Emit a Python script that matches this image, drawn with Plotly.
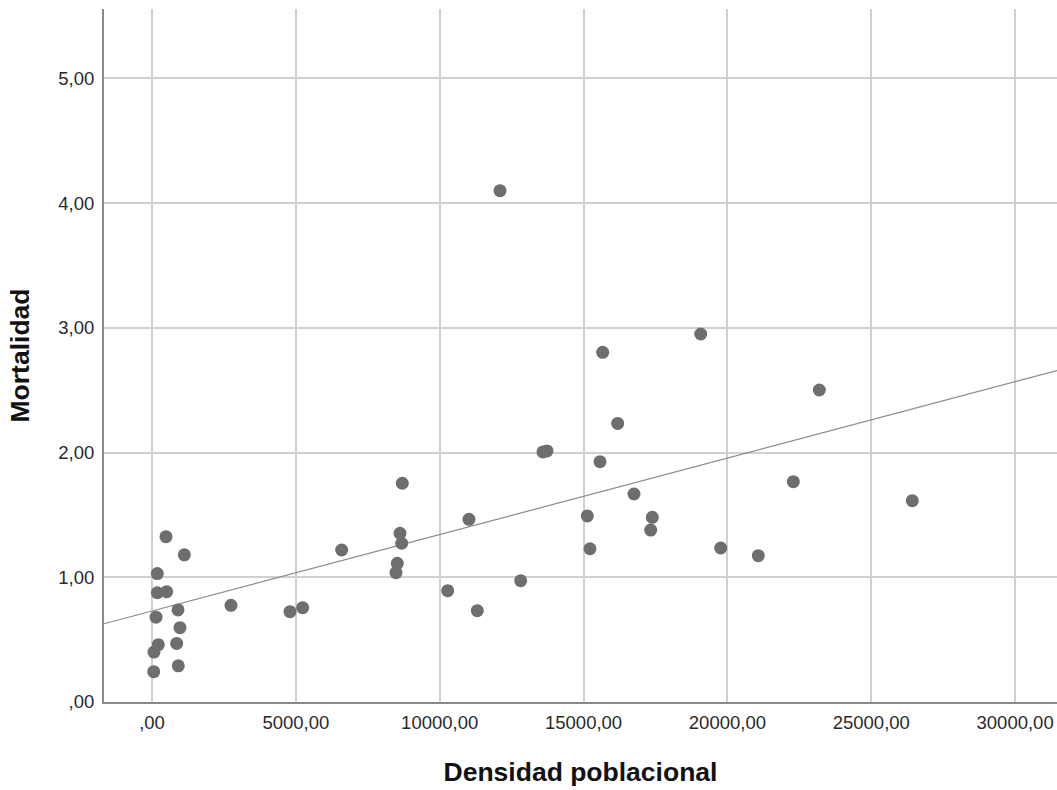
import numpy as np
import plotly.graph_objects as go

densidad = [60, 70, 220, 140, 487, 1124, 185, 185, 510, 904, 973, 858, 915,
            2746, 4797, 5237, 6593, 8700, 8620, 8679, 8526, 8481, 11018, 10278,
            11307, 12815, 12096, 13590, 13730, 19072, 15665, 16186, 15572, 16753,
            15130, 17390, 17334, 15224, 23195, 22291, 26427, 19767, 21074]
mortalidad = [0.243, 0.40, 0.46, 0.68, 1.326, 1.18, 1.03, 0.876, 0.885, 0.738, 0.596, 0.47, 0.29,
              0.775, 0.724, 0.756, 1.219, 1.754, 1.353, 1.273, 1.112, 1.037, 1.465, 0.893,
              0.732, 0.973, 4.10, 2.005, 2.013, 2.951, 2.804, 2.234, 1.927, 1.668,
              1.492, 1.481, 1.379, 1.229, 2.502, 1.767, 1.614, 1.235, 1.173]

x_ticks = [0, 5000, 10000, 15000, 20000, 25000, 30000]
x_ticklabels = [",00", "5000,00", "10000,00", "15000,00", "20000,00", "25000,00", "30000,00"]
y_ticks = [0, 1, 2, 3, 4, 5]
y_ticklabels = [",00", "1,00", "2,00", "3,00", "4,00", "5,00"]

x_range = [-1668, 31456]
y_range = [0, 5.557]

slope, intercept = np.polyfit(densidad, mortalidad, 1)
fit_x = np.array(x_range)
fit_y = intercept + slope * fit_x

fig = go.Figure()
fig.add_trace(go.Scatter(x=fit_x, y=fit_y, mode="lines",
                         line=dict(color="#8c8c8c", width=1.2),
                         hoverinfo="skip", showlegend=False))
fig.add_trace(go.Scatter(x=densidad, y=mortalidad, mode="markers",
                         marker=dict(size=13, color="#6e6e6e"),
                         showlegend=False))

font_family = "Liberation Sans, Arial, sans-serif"
fig.update_layout(
    width=1057, height=790,
    margin=dict(l=104, r=0, t=9, b=88),
    paper_bgcolor="white", plot_bgcolor="white",
    font=dict(family=font_family, size=18.5, color="#2a2a2a"),
)
fig.update_xaxes(
    range=x_range, tickvals=x_ticks, ticktext=x_ticklabels,
    showgrid=True, gridcolor="#d0d0d0", gridwidth=1.5,
    zeroline=False, showline=True, linecolor="#8a8a8a", linewidth=2,
    ticks="", ticklabelstandoff=3,
    title=dict(text="Densidad poblacional", standoff=30,
               font=dict(size=26.5, family=font_family, color="#111111", weight="bold")),
)
fig.update_yaxes(
    range=y_range, tickvals=y_ticks, ticktext=y_ticklabels,
    showgrid=True, gridcolor="#d0d0d0", gridwidth=1.5,
    zeroline=False, showline=True, linecolor="#8a8a8a", linewidth=2,
    ticks="", ticklabelstandoff=4,
    title=dict(text="Mortalidad", standoff=21,
               font=dict(size=26.5, family=font_family, color="#111111", weight="bold")),
)

fig.write_html("out.html", config={"displayModeBar": False},
               post_script="document.body.style.margin='0';document.body.style.overflow='hidden';")
